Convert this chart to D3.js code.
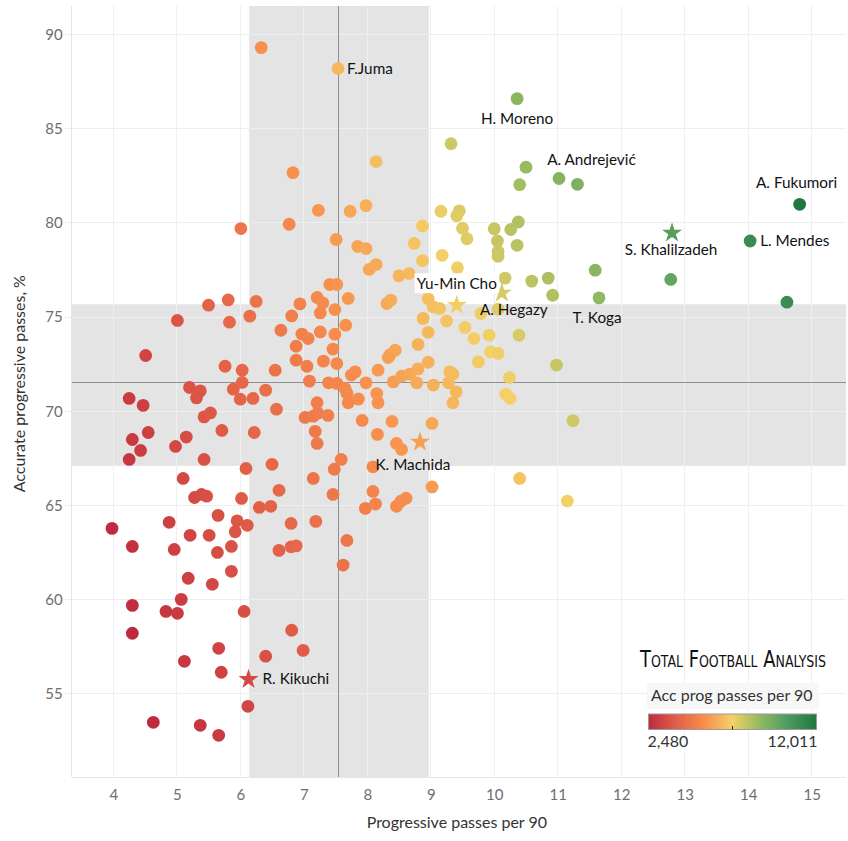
<!DOCTYPE html>
<html>
<head>
<meta charset="utf-8">
<script src="https://cdn.jsdelivr.net/npm/d3@7"></script>
<style>
  html, body { margin: 0; padding: 0; background: #ffffff; }
  svg { display: block; font-family: Lato, "Open Sans", sans-serif; }
</style>
</head>
<body>
<svg id="chart" width="848" height="841"></svg>
<script>
// ---------------- DATA ----------------
// Progressive passes per 90 (x) and accurate progressive passes % (y), one entry per player
const progPasses = [
  4.25,4.47,4.51,4.30,4.55,4.25,4.43,4.98,5.15,5.43,5.71,5.01,5.50,5.81,5.83,5.76,6.03,5.20,5.37,5.31,
  5.89,6.03,6.00,5.43,5.53,6.01,6.09,5.10,5.28,5.39,5.47,6.02,3.98,4.88,5.65,5.95,6.11,5.92,4.30,4.96,
  5.21,5.51,5.64,5.86,5.86,5.18,5.56,5.07,4.30,4.83,5.01,6.06,4.30,5.66,5.12,5.70,6.12,4.63,5.37,5.66,
  6.33,6.83,6.77,6.15,6.25,6.64,6.81,6.94,6.88,6.88,6.55,6.20,6.40,6.57,6.22,6.50,6.61,6.30,6.48,6.80,
  6.61,6.80,6.88,6.81,6.40,6.99,6.97,7.07,
  7.54,7.23,7.73,7.98,7.51,7.85,7.98,8.03,8.14,8.14,7.41,7.52,7.70,7.21,7.30,7.26,7.49,7.66,7.26,7.49,
  7.46,7.05,7.31,7.52,7.81,7.75,7.09,7.39,7.52,7.65,7.68,7.86,7.70,7.21,7.02,7.15,7.22,7.38,7.18,7.21,
  7.92,8.39,8.16,9.02,8.17,8.15,7.98,8.41,8.54,8.67,8.78,9.04,9.28,9.40,9.35,8.17,8.36,8.44,8.33,8.80,
  8.96,9.30,9.35,8.80,8.96,8.88,8.96,9.04,9.14,9.25,9.54,9.68,9.75,9.94,10.06,9.92,10.39,9.79,10.06,8.31,
  8.37,8.50,8.66,8.87,8.74,8.87,9.16,9.45,9.41,9.50,9.57,9.18,9.42,10.00,10.26,10.38,10.05,10.06,10.06,10.36,
  10.17,10.59,10.85,10.92,9.32,10.36,10.50,10.40,11.02,11.31,10.24,10.18,10.25,10.98,11.24,10.40,11.15,9.02,8.09,8.09,
  7.97,8.13,8.46,8.53,8.61,8.46,8.54,7.59,7.48,7.15,7.46,7.19,7.68,7.62,
  14.81,14.03,11.59,12.78,11.65,14.61
];
const accuracy = [
  70.68,70.31,72.96,68.50,68.87,67.44,67.92,68.13,68.63,67.44,68.98,74.82,75.63,75.91,74.73,72.39,72.18,71.26,71.08,70.71,
  71.17,71.53,70.64,69.70,69.91,79.70,66.96,66.43,65.42,65.58,65.49,65.37,63.78,64.10,64.47,64.18,63.94,63.60,62.82,62.66,
  63.41,63.41,62.50,62.82,61.50,61.13,60.81,60.01,59.69,59.37,59.27,59.37,58.21,57.41,56.72,56.14,54.33,53.48,53.32,52.79,
  89.31,82.67,79.93,75.05,75.83,74.30,75.06,75.70,73.45,72.71,72.18,70.68,71.12,70.11,68.87,67.18,65.80,64.89,64.95,64.04,
  62.61,62.80,62.85,58.37,56.99,57.30,74.10,73.86,
  88.20,80.67,80.62,80.92,79.12,78.75,78.64,77.53,77.79,83.26,76.73,76.73,75.99,76.04,75.75,75.22,75.40,74.57,74.21,74.09,
  73.30,72.39,72.66,72.53,72.09,71.92,71.60,71.51,71.48,71.21,70.95,70.65,70.45,70.45,69.67,69.74,69.90,69.78,68.93,68.29,
  69.51,69.46,68.77,69.35,70.45,70.94,71.51,71.56,71.86,71.97,71.51,71.39,71.51,71.03,70.45,72.18,73.00,73.24,72.85,72.25,
  72.60,72.09,71.96,73.55,74.19,74.93,75.97,75.54,75.46,74.79,74.45,73.86,72.62,73.15,73.07,74.04,74.04,75.19,75.42,75.72,
  75.90,77.19,77.31,79.84,78.91,78.00,80.62,80.64,80.38,79.72,79.16,78.28,77.62,79.69,79.65,80.05,79.04,78.48,78.23,78.81,
  77.07,76.91,77.07,76.16,84.21,86.60,82.96,82.03,82.36,82.05,71.79,70.91,70.68,72.45,69.50,66.43,65.23,65.98,67.05,65.74,
  64.84,65.07,64.95,65.22,65.38,68.29,67.97,67.44,66.92,66.43,65.58,64.15,63.14,61.83,
  80.99,79.04,77.49,77.00,76.02,75.79
];

// Highlighted players drawn as stars
const starNames = ["Yu-Min Cho", "A. Hegazy", "K. Machida", "R. Kikuchi", "S. Khalilzadeh"];
const starX = [9.41, 10.12, 8.83, 6.13, 12.80];
const starY = [75.63, 76.28, 68.36, 55.76, 79.47];

// Labelled players among the circles
const labelNames = ["F.Juma", "H. Moreno", "A. Andrejević", "A. Fukumori", "L. Mendes", "T. Koga"];
const labelX = [7.54, 10.36, 11.31, 14.81, 14.03, 11.65];
const labelY = [88.20, 86.60, 82.05, 80.99, 79.04, 76.02];

// Reference lines (average) and +/- bands
const avgX = 7.54, avgY = 71.53;
const bandX = [6.14, 8.97];
const bandY = [67.10, 75.68];

// Axis ticks
const xTicks = [4, 5, 6, 7, 8, 9, 10, 11, 12, 13, 14, 15];
const yTicks = [55, 60, 65, 70, 75, 80, 85, 90];

// Colour legend (accurate progressive passes per 90)
const colorDomain = [2.480, 12.011];
const colorLabels = ["2,480", "12,011"];
const colorStops = ["#be2a3e", "#e25f48", "#f88f4d", "#f4d166", "#90b960", "#4b9b5f", "#22763f"];

// ---------------- DRAW ----------------
const svg = d3.select("#chart");
const L = 71.7, R = 846, T = 6, B = 777.3;

const x = d3.scaleLinear().domain([3.345, 15.54]).range([L, R]);
const y = d3.scaleLinear().domain([50.56, 91.52]).range([B, T]);

const cStep = d3.range(colorStops.length).map(i => colorDomain[0] + (colorDomain[1] - colorDomain[0]) * i / (colorStops.length - 1));
const color = d3.scaleLinear().domain(cStep).range(colorStops).interpolate(d3.interpolateRgb).clamp(true);
const accPer90 = (px, pct) => px * pct / 100;

// bands
const g = svg.append("g");
g.append("rect").attr("x", x(bandX[0])).attr("y", T).attr("width", x(bandX[1]) - x(bandX[0])).attr("height", B - T).attr("fill", "#e4e4e4");
g.append("rect").attr("x", L).attr("y", y(bandY[1])).attr("width", R - L).attr("height", y(bandY[0]) - y(bandY[1])).attr("fill", "#e4e4e4");

// gridlines
const grid = svg.append("g").attr("stroke", "#efefef").attr("stroke-width", 1).attr("shape-rendering", "crispEdges");
xTicks.forEach(t => grid.append("line").attr("x1", x(t)).attr("x2", x(t)).attr("y1", T).attr("y2", B));
yTicks.forEach(t => grid.append("line").attr("x1", L - 8).attr("x2", R).attr("y1", y(t)).attr("y2", y(t)));
grid.append("line").attr("x1", L).attr("x2", L).attr("y1", T).attr("y2", B).attr("stroke", "#e6e6e6");
grid.append("line").attr("x1", L).attr("x2", R).attr("y1", B).attr("y2", B).attr("stroke", "#e6e6e6");

// axes tick labels via d3 axes
const xAxis = svg.append("g").attr("transform", `translate(0,${B})`)
  .call(d3.axisBottom(x).tickValues(xTicks).tickSize(0).tickPadding(12));
const yAxis = svg.append("g").attr("transform", `translate(${L},0)`)
  .call(d3.axisLeft(y).tickValues(yTicks).tickSize(0).tickPadding(9));
[xAxis, yAxis].forEach(a => {
  a.select(".domain").remove();
  a.selectAll("text").attr("font-family", "Lato, sans-serif").attr("font-size", 15).attr("fill", "#6e6e6e");
});

// axis titles
svg.append("text").attr("x", (L + R) / 2 - 2).attr("y", 828).attr("text-anchor", "middle")
  .attr("font-size", 16).attr("fill", "#333").text("Progressive passes per 90");
svg.append("text").attr("transform", `translate(25,${(T + B) / 2 - 8}) rotate(-90)`).attr("text-anchor", "middle")
  .attr("font-size", 16).attr("fill", "#333").text("Accurate progressive passes, %");

// average lines
svg.append("line").attr("x1", x(avgX)).attr("x2", x(avgX)).attr("y1", T).attr("y2", B)
  .attr("stroke", "#8f8f8f").attr("stroke-width", 1).attr("shape-rendering", "crispEdges");
svg.append("line").attr("x1", L).attr("x2", R).attr("y1", y(avgY)).attr("y2", y(avgY))
  .attr("stroke", "#8f8f8f").attr("stroke-width", 1).attr("shape-rendering", "crispEdges");

// dots
const pts = progPasses.map((v, i) => ({ x: v, y: accuracy[i] }));
svg.append("g").selectAll("circle").data(pts).join("circle")
  .attr("cx", d => x(d.x)).attr("cy", d => y(d.y)).attr("r", 6.4)
  .attr("fill", d => color(accPer90(d.x, d.y)));

// stars
const stars = starNames.map((n, i) => ({ name: n, x: starX[i], y: starY[i] }));
svg.append("g").selectAll("path").data(stars).join("path")
  .attr("transform", d => `translate(${x(d.x)},${y(d.y)})`)
  .attr("d", d3.symbol().type(d3.symbolStar).size(125))
  .attr("fill", d => color(accPer90(d.x, d.y)));

// labels (pixel offsets relative to each marker)
const labelOffsets = {
  "F.Juma": [9, 5, "start"],
  "H. Moreno": [0, 25, "middle"],
  "A. Andrejević": [14, -19, "middle"],
  "A. Fukumori": [-3, -16, "middle"],
  "L. Mendes": [10, 5, "start"],
  "T. Koga": [-2, 25, "middle"],
  "Yu-Min Cho": [0, -16, "middle"],
  "A. Hegazy": [12, 22, "middle"],
  "K. Machida": [-7, 28, "middle"],
  "R. Kikuchi": [14, 5, "start"],
  "S. Khalilzadeh": [-1, 22, "middle"]
};
const labels = labelNames.map((n, i) => ({ name: n, x: labelX[i], y: labelY[i] }))
  .concat(stars);
const lg = svg.append("g");
labels.forEach(d => {
  const o = labelOffsets[d.name];
  const t = lg.append("text").attr("x", x(d.x) + o[0]).attr("y", y(d.y) + o[1])
    .attr("text-anchor", o[2]).attr("font-size", 15.3).attr("fill", "#111").text(d.name);
  if (d.name === "Yu-Min Cho") {
    const bb = t.node().getBBox();
    lg.insert("rect", "text").attr("x", bb.x - 2).attr("y", bb.y - 1).attr("width", bb.width + 4).attr("height", bb.height + 2).attr("fill", "#fff");
  }
});

// logo (single text, small caps, stretched vertically)
svg.append("text").attr("transform", "translate(640,667) scale(1,1.45)")
  .attr("font-family", "'DejaVu Sans Condensed', 'Liberation Sans Narrow', sans-serif")
  .attr("font-size", 16).style("font-variant", "small-caps")
  .attr("fill", "#111").attr("textLength", 186).attr("lengthAdjust", "spacingAndGlyphs")
  .text("Total Football Analysis");

// legend
svg.append("rect").attr("x", 646.7).attr("y", 683).attr("width", 172).attr("height", 26).attr("fill", "#f7f7f7");
svg.append("text").attr("x", 651).attr("y", 701).attr("font-size", 16).attr("fill", "#333").text("Acc prog passes per 90");
const grad = svg.append("defs").append("linearGradient").attr("id", "cgrad");
colorStops.forEach((c, i) => grad.append("stop").attr("offset", (i / (colorStops.length - 1) * 100) + "%").attr("stop-color", c));
const lgX0 = 648.5, lgX1 = 816.5;
svg.append("rect").attr("x", lgX0).attr("y", 714).attr("width", lgX1 - lgX0).attr("height", 15.5)
  .attr("fill", "url(#cgrad)").attr("stroke", "#9a9a9a").attr("stroke-width", 1);
svg.append("line").attr("x1", (lgX0 + lgX1) / 2).attr("x2", (lgX0 + lgX1) / 2).attr("y1", 726).attr("y2", 729.5)
  .attr("stroke", "#222").attr("stroke-width", 1);
svg.append("text").attr("x", lgX0 - 1).attr("y", 747).attr("font-size", 16).attr("fill", "#333").text(colorLabels[0]);
svg.append("text").attr("x", lgX1 + 1).attr("y", 747).attr("text-anchor", "end").attr("font-size", 16).attr("fill", "#333").text(colorLabels[1]);
</script>
</body>
</html>
